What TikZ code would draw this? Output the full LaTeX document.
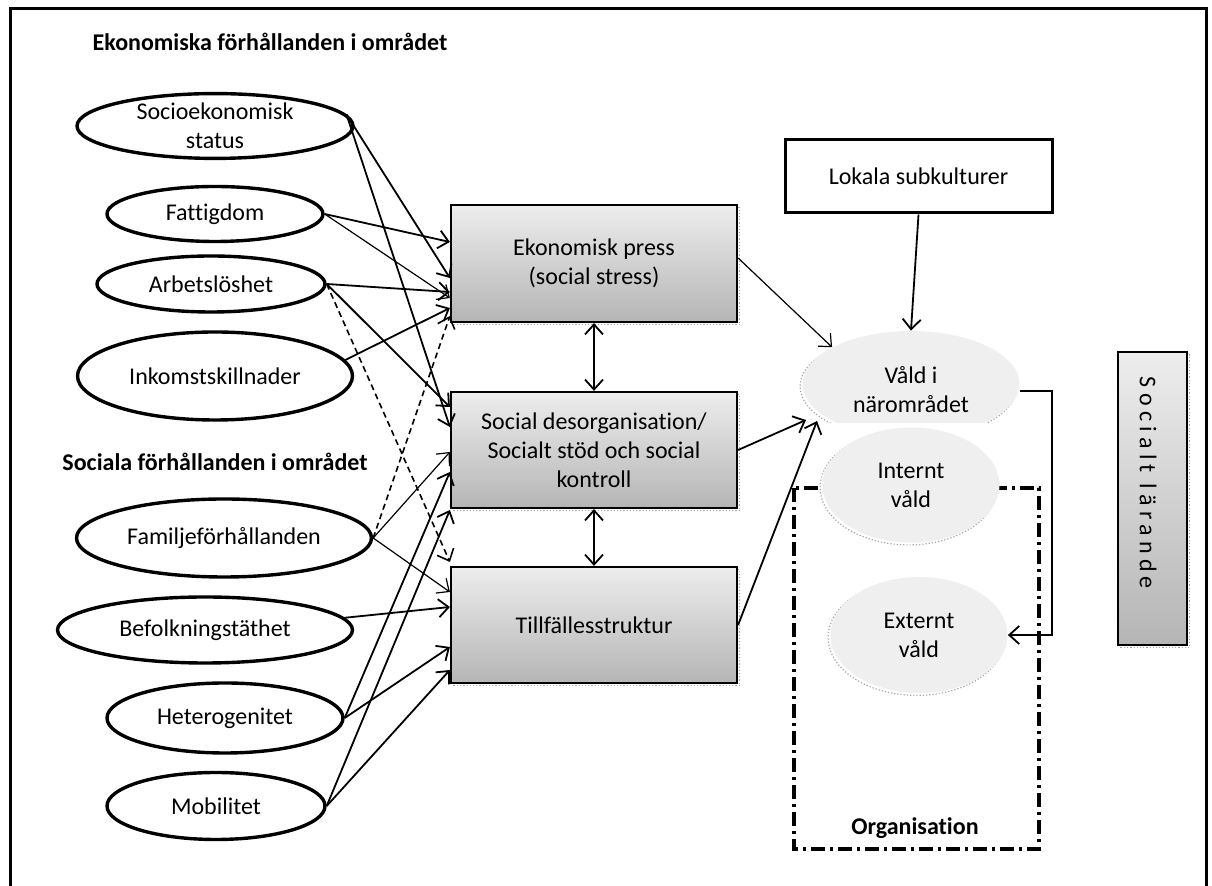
\documentclass[tikz,border=0pt]{standalone}
\usepackage{fontspec}
\setmainfont{Carlito}[Ligatures=NoCommon]
\usetikzlibrary{arrows.meta,shapes.geometric,shadows}
\definecolor{vfill}{HTML}{EFEFEF}
\begin{document}
\begin{tikzpicture}[x=0.5pt,y=-0.5pt,
  font=\fontsize{12}{14.5}\selectfont,
  lel/.style={ellipse, draw, line width=1.7pt, fill=white, inner sep=0pt, align=center},
  gel/.style={ellipse, fill=vfill, inner sep=0pt, align=center,
    general shadow={shadow xshift=-1.2pt, shadow yshift=-1.2pt, draw=gray!70, densely dotted, line width=0.6pt, fill=white}},
  gbox/.style={rectangle, draw, line width=1.1pt, top color=gray!14, bottom color=gray!58, align=center, inner sep=0pt,
    general shadow={shadow xshift=1.4pt, shadow yshift=-1.4pt, draw=gray!70, densely dotted, line width=0.6pt, fill=white}},
  wbox/.style={rectangle, draw, line width=1.5pt, fill=white, align=center, inner sep=0pt},
  arr/.style={-{Straight Barb[length=5pt,width=9pt]}, line width=0.9pt},
  thinarr/.style={-{Straight Barb[length=5pt,width=9pt]}, line width=0.6pt},
  dasharr/.style={-{Straight Barb[length=5pt,width=9pt]}, line width=0.8pt, dash pattern=on 3pt off 2pt},
  dbl/.style={{Straight Barb[length=5pt,width=9pt]}-{Straight Barb[length=5pt,width=9pt]}, line width=0.9pt},
  ttl/.style={font=\fontsize{12}{14.5}\selectfont\bfseries}
]
\useasboundingbox (0,0) rectangle (1212,886);
% outer frame
\draw[line width=1.5pt] (10,900) -- (10,9) -- (1206,9) -- (1206,900);

% titles
\node[ttl] (t1) at (270,42) {Ekonomiska förhållanden i området};
\node[ttl] (t2) at (215,462) {Sociala förhållanden i området};

% left ellipses
\node[lel, minimum width=138pt, minimum height=29pt] (socio) at (215,126) {Socioekonomisk\\status};
\node[lel, minimum width=108pt, minimum height=27.5pt] (fattig) at (215,214) {Fattigdom};
\node[lel, minimum width=114pt, minimum height=28pt] (arbets) at (211,284) {Arbetslöshet};
\node[lel, minimum width=137.5pt, minimum height=44pt] (inkomst) at (215,376) {Inkomstskillnader};
\node[lel, minimum width=147.5pt, minimum height=39pt] (familj) at (224,538) {Familjeförhållanden};
\node[lel, minimum width=147.5pt, minimum height=33pt] (befolk) at (205,630) {Befolkningstäthet};
\node[lel, minimum width=118pt, minimum height=35pt] (hetero) at (225,718) {Heterogenitet};
\node[lel, minimum width=109pt, minimum height=33.5pt] (mobil) at (216,806) {Mobilitet};

% organisation box
\draw[line width=1.8pt, dash pattern=on 7pt off 2.5pt on 1.5pt off 2.5pt] (794,488) rectangle (1039,849);
\node[ttl] (org) at (915,828) {Organisation};

% violence ellipses
\node[gel, minimum width=108.5pt, minimum height=53pt] (vald) at (911,384) {};
\fill[white] (790,423) rectangle (1024,446);
\node[align=center] (valdtext) at (911,390) {Våld i\\närområdet};
\node[gel, minimum width=88.5pt, minimum height=57.5pt] (intern) at (911,485) {Internt\\våld};
\node[gel, minimum width=88.5pt, minimum height=58pt] (extern) at (919,635) {Externt\\våld};

% central boxes
\node[gbox, minimum width=143pt, minimum height=58.5pt] (ek) at (594,263.5) {Ekonomisk press\\(social stress)};
\node[gbox, minimum width=143pt, minimum height=58pt] (sd) at (594,450) {Social desorganisation/\\Socialt stöd och social\\kontroll};
\node[gbox, minimum width=143pt, minimum height=58pt] (ti) at (594,625) {Tillfällesstruktur};

% lokala subkulturer
\node[wbox, minimum width=133.5pt, minimum height=36.5pt] (lok) at (918.5,176.5) {Lokala subkulturer};

% socialt lärande
\node[gbox, minimum width=34.5pt, minimum height=146.5pt] (sl) at (1152.5,498.5) {};
\node[rotate=-90, inner sep=0pt] (sltext) at (1148,483) {\addfontfeatures{LetterSpace=22}Socialt lärande};

% connectors left -> boxes
\draw[arr] (socio.5) -- (ek.west |- 0,278);
\draw[arr] (socio.5) -- (sd.west |- 0,427);
\draw[arr] (fattig.east) -- (ek.west |- 0,242);
\draw[thinarr] (fattig.east) -- (ek.west |- 0,298);
\draw[arr] (arbets.east) -- (ek.west |- 0,292);
\draw[arr] (arbets.east) -- (sd.west |- 0,407);
\draw[dasharr] (arbets.east) -- (ti.west |- 0,562);
\draw[arr] (inkomst.7) -- (ek.west |- 0,308);
\draw[dasharr] (familj.east) -- (ek.west |- 0,316);
\draw[thinarr] (familj.east) -- (sd.west |- 0,452);
\draw[thinarr] (familj.east) -- (ti.west |- 0,592);
\draw[arr] (befolk.5) -- (ti.west |- 0,607);
\draw[arr] (hetero.east) -- (sd.west |- 0,472);
\draw[arr] (hetero.east) -- (ti.west |- 0,647);
\draw[arr] (mobil.east) -- (sd.west |- 0,510);
\draw[arr] (mobil.east) -- (ti.west |- 0,670);

% between boxes
\draw[dbl] (ek.south) -- (sd.north);
\draw[dbl] (sd.south) -- (ti.north);

% boxes -> violence
\coordinate (vA) at (806,420);
\coordinate (vB) at (817,421);
\draw[thinarr] (ek.east |- 0,258) -- (vald.155);
\draw[arr] (sd.east) -- (vA);
\draw[arr] (ti.east) -- (vB);
\draw[arr] (lok.south) -- (vald.north);
\draw[arr] (vald.east) ++(0,7) -- ++(32,0) |- (extern.east);
\end{tikzpicture}
\end{document}
